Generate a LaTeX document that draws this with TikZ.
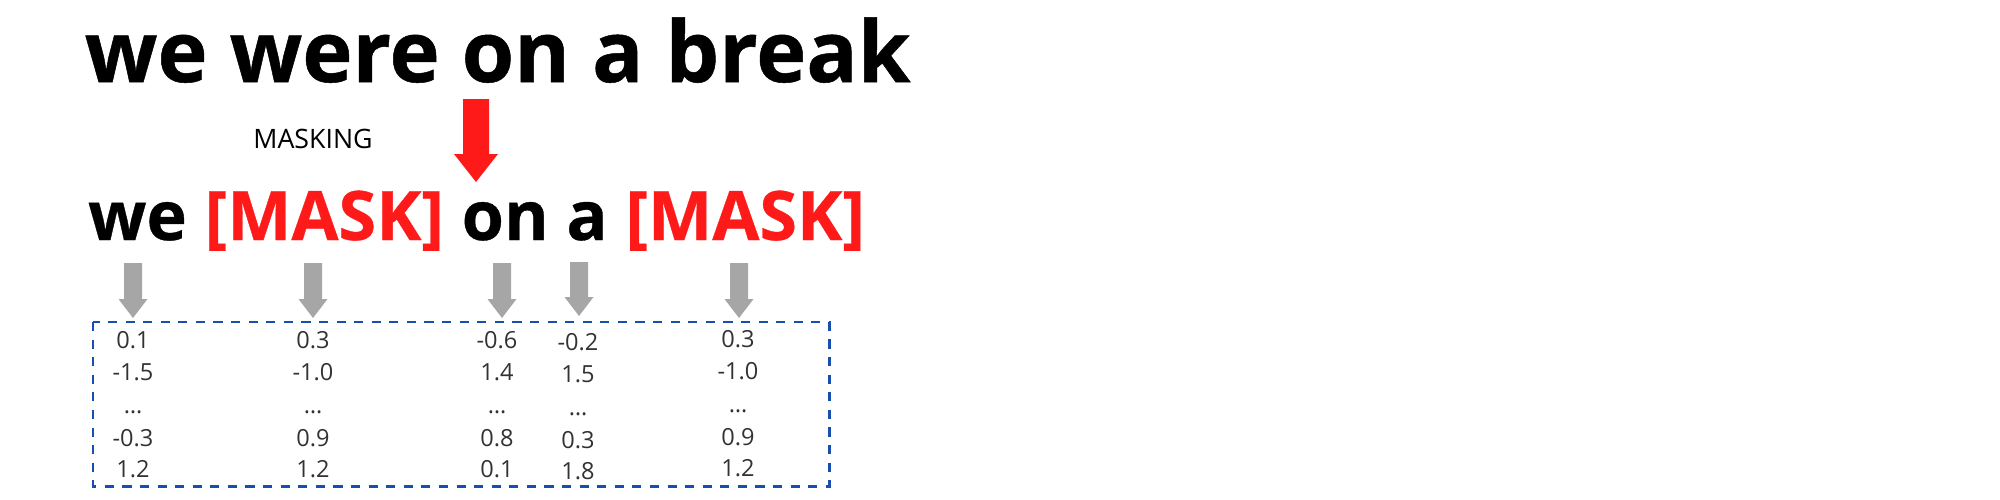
\documentclass[tikz,border=0pt]{standalone}
\usepackage{fontspec}
\setmainfont{Open Sans}
\definecolor{maskred}{RGB}{255,26,26}
\definecolor{arrowgray}{RGB}{166,166,166}
\definecolor{boxblue}{RGB}{24,78,178}
\definecolor{numgray}{RGB}{50,50,50}
\begin{document}
\begin{tikzpicture}[x=0.01cm,y=-0.01cm,
  titletext/.style={font=\fontsize{24.15}{24.15}\selectfont\bfseries\addfontfeatures{FakeBold=0.6}, inner sep=0, anchor=base},
  linetext/.style={font=\fontsize{19.4}{19.4}\selectfont\bfseries\addfontfeatures{FakeBold=0.5}, inner sep=0, anchor=base},
  smalllabel/.style={font=\fontsize{7.6}{7.6}\selectfont, inner sep=0, anchor=base, text=black},
  numtext/.style={font=\fontsize{6.7}{6.7}\selectfont, inner sep=0, anchor=base, text=numgray},
  redarrow/.style={fill=maskred, draw=none},
  grayarrow/.style={fill=arrowgray, draw=none},
  dashbox/.style={draw=boxblue, line width=0.85pt, dash pattern=on 2.6pt off 2.4pt}]
\useasboundingbox (0,0) rectangle (2000,500);

% title
\node[titletext] (title) at (497.5,82) {we were on a break};

% masking label and red arrow
\node[smalllabel] (masking) at (313,148) {MASKING};
\fill[redarrow] (463,99) -- (489,99) -- (489,154) -- (498,154) -- (476,182) -- (454,154) -- (463,154) -- cycle;

% masked sentence
\node[linetext] (masked) at (476.5,240) {we \textcolor{maskred}{[MASK]} on a \textcolor{maskred}{[MASK]}};

% gray arrows
\foreach \c/\t/\b [count=\i] in {133/263/318, 313/263/318, 502/263/318, 579/262/316, 739/263/318}{
  \fill[grayarrow] (\c-9,\t) -- (\c+9,\t) -- (\c+9,\b-19) -- (\c+14.5,\b-19) -- (\c,\b) -- (\c-14.5,\b-19) -- (\c-9,\b-19) -- cycle;
}

% dashed box
\draw[dashbox] (93,322) rectangle (829,486);

% embedding numbers
\foreach \x/\a/\b/\d/\e/\dy [count=\i] in {133/0.1/-1.5/-0.3/1.2/0, 313/0.3/-1.0/0.9/1.2/0, 497/-0.6/1.4/0.8/0.1/0, 578/-0.2/1.5/0.3/1.8/2, 738/0.3/-1.0/0.9/1.2/-1}{
  \node[numtext] (n\i a) at (\x,348+\dy) {\a};
  \node[numtext] (n\i b) at (\x,380+\dy) {\b};
  \node[numtext] (n\i c) at (\x,413+\dy) {…};
  \node[numtext] (n\i d) at (\x,446+\dy) {\d};
  \node[numtext] (n\i e) at (\x,477+\dy) {\e};
}
\end{tikzpicture}
\end{document}
